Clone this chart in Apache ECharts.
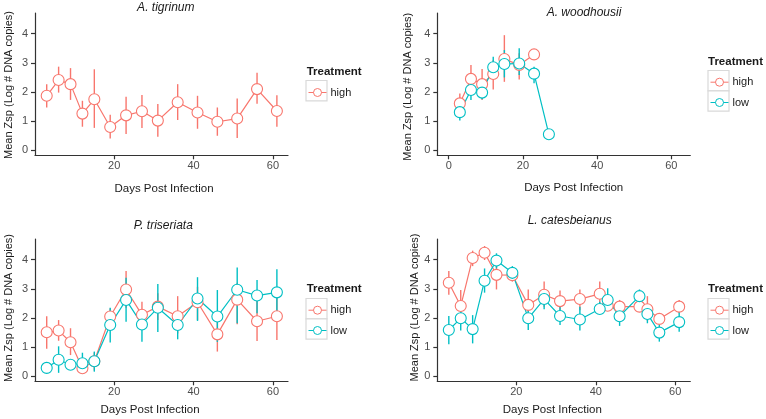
<!DOCTYPE html>
<html>
<head>
<meta charset="utf-8">
<script src="https://cdn.jsdelivr.net/npm/echarts@6/dist/echarts.min.js"></script>
<style>
html,body{margin:0;padding:0;background:#fff;}
#chart{width:766px;height:419px;}
</style>
</head>
<body>
<div id="chart"></div>
<script>
// ---------- data ----------
const panelTitles = ['A. tigrinum', 'A. woodhousii', 'P. triseriata', 'L. catesbeianus'];
const seriesNames = ['high', 'low'];
const xTicksA = [20, 40, 60];
const xTicksB = [0, 20, 40, 60];
const yTicks = [0, 1, 2, 3, 4];

// A. tigrinum
const tigDays = [3, 6, 9, 12, 15, 19, 23, 27, 31, 36, 41, 46, 51, 56, 61];
const tigHigh = [1.87, 2.41, 2.27, 1.26, 1.75, 0.80, 1.20, 1.34, 1.02, 1.65, 1.30, 0.98, 1.09, 2.10, 1.35];
const tigHighLo = [1.47, 1.98, 1.73, 0.81, 0.77, 0.41, 0.56, 0.77, 0.47, 1.04, 0.74, 0.50, 0.42, 1.60, 0.81];
const tigHighHi = [2.27, 2.87, 2.82, 1.70, 2.78, 1.22, 1.84, 1.90, 1.59, 2.27, 1.87, 1.47, 1.78, 2.66, 1.89];

// A. woodhousii
const woodHighDays = [3, 6, 9, 12, 15, 19, 23];
const woodHigh = [1.61, 2.45, 2.27, 2.62, 3.13, 2.93, 3.29];
const woodHighLo = [1.30, 2.07, 1.73, 2.09, 2.35, 2.43, null];
const woodHighHi = [1.95, 2.93, 2.79, 3.10, 3.95, 3.33, null];
const woodLowDays = [3, 6, 9, 12, 15, 19, 23, 27];
const woodLow = [1.31, 2.07, 1.98, 2.85, 2.96, 2.98, 2.63, 0.55];
const woodLowLo = [1.02, 1.73, 1.75, 2.53, 2.50, 2.58, 2.30, null];
const woodLowHi = [1.60, 2.35, 2.18, 3.21, 3.44, 3.50, 2.87, null];

// P. triseriata
const triDays = [3, 6, 9, 12, 15, 19, 23, 27, 31, 36, 41, 46, 51, 56, 61];
const triHigh = [1.51, 1.57, 1.17, 0.28, 0.52, 2.05, 2.98, 2.11, 2.39, 2.06, 2.54, 1.44, 2.63, 1.89, 2.06];
const triHighLo = [0.95, 1.22, 0.73, 0.12, 0.20, 1.76, 2.35, 1.70, 1.93, 1.47, 1.93, 0.85, 1.79, 1.21, 1.25];
const triHighHi = [2.06, 1.93, 1.65, 0.62, 0.82, 2.33, 3.61, 2.56, 2.85, 2.75, 3.07, 2.05, 3.21, 2.62, 2.75];
const triLow = [0.29, 0.57, 0.40, 0.45, 0.52, 1.76, 2.62, 1.78, 2.35, 1.76, 2.67, 2.05, 2.97, 2.77, 2.88];
const triLowLo = [0.18, 0.12, 0.25, 0.10, 0.16, 1.16, 1.87, 1.19, 1.52, 1.27, 1.90, 1.18, 1.82, 2.16, 2.07];
const triLowHi = [0.40, 1.03, 0.55, 0.81, 0.85, 2.35, 3.38, 2.27, 3.17, 2.16, 3.40, 2.96, 3.73, 3.30, 3.67];

// L. catesbeianus
const catDays = [3, 6, 9, 12, 15, 19, 23, 27, 31, 36, 41, 43, 46, 51, 53, 56, 61];
const catHigh = [3.21, 2.41, 4.06, 4.24, 3.48, 3.47, 2.45, 2.80, 2.58, 2.65, 2.83, 2.42, 2.39, 2.39, 2.30, 1.97, 2.39];
const catHighLo = [2.80, 2.16, 3.78, 3.99, 2.98, 3.25, 2.10, 2.39, 2.22, 2.27, 2.39, 2.25, 2.22, 2.22, 1.90, 1.80, 2.16];
const catHighHi = [3.61, 2.96, 4.31, 4.47, 3.93, 3.65, 2.98, 3.25, 2.94, 2.98, 3.25, 2.60, 2.62, 2.56, 2.75, 2.13, 2.62];
const catLow = [1.59, 1.99, 1.62, 3.28, 3.97, 3.55, 1.99, 2.65, 2.07, 1.95, 2.31, 2.62, 2.06, 2.75, 2.14, 1.50, 1.86];
const catLowLo = [1.10, 1.57, 1.13, 2.87, 3.70, 3.28, 1.59, 2.30, 1.76, 1.57, 2.13, 2.24, 1.73, 2.50, 1.82, 1.19, 1.53];
const catLowHi = [2.07, 2.33, 2.10, 3.70, 4.22, 3.78, 2.39, 2.96, 2.39, 2.39, 2.56, 3.02, 2.39, 2.98, 2.39, 1.76, 2.27];

// ---------- styling / layout ----------
const COLORS = { high: '#F8766D', low: '#00BFC4' };
const FONT = 'Liberation Sans, Arial, Helvetica, sans-serif';
const AXIS_COLOR = '#333333';
const LABEL_COLOR = '#4D4D4D';

const grids = [
  { left: 35, top: 13, width: 253, height: 142.3 },
  { left: 437.3, top: 13, width: 253, height: 142.3 },
  { left: 35, top: 239, width: 253, height: 142.3 },
  { left: 437.3, top: 239, width: 253, height: 142.3 }
];
const xRanges = [[0.05, 63.8], [-3.07, 65.1], [0.05, 63.8], [0.1, 63.8]];
const xTickSets = [xTicksA, xTicksB, xTicksA, xTicksA];
const yRange = [-0.17, 4.71];

const panels = [
  { series: [{ name: 'high', days: tigDays, mean: tigHigh, lo: tigHighLo, hi: tigHighHi }] },
  { series: [
      { name: 'high', days: woodHighDays, mean: woodHigh, lo: woodHighLo, hi: woodHighHi },
      { name: 'low', days: woodLowDays, mean: woodLow, lo: woodLowLo, hi: woodLowHi }] },
  { series: [
      { name: 'high', days: triDays, mean: triHigh, lo: triHighLo, hi: triHighHi },
      { name: 'low', days: triDays, mean: triLow, lo: triLowLo, hi: triLowHi }] },
  { series: [
      { name: 'high', days: catDays, mean: catHigh, lo: catHighLo, hi: catHighHi },
      { name: 'low', days: catDays, mean: catLow, lo: catLowLo, hi: catLowHi }] }
];

const xAxes = [], yAxes = [], series = [], legends = [];
grids.forEach((g, i) => {
  xAxes.push({
    type: 'value', gridIndex: i, min: xRanges[i][0], max: xRanges[i][1],
    axisLine: { show: true, onZero: false, lineStyle: { color: AXIS_COLOR, width: 1.2 } },
    axisTick: { show: true, length: 4, customValues: xTickSets[i], lineStyle: { color: AXIS_COLOR, width: 1.2 } },
    axisLabel: { customValues: xTickSets[i], color: LABEL_COLOR, fontSize: 11, fontFamily: FONT, margin: 5 },
    splitLine: { show: false }
  });
  yAxes.push({
    type: 'value', gridIndex: i, min: yRange[0], max: yRange[1],
    axisLine: { show: true, onZero: false, lineStyle: { color: AXIS_COLOR, width: 1.2 } },
    axisTick: { show: true, length: 4, customValues: yTicks, lineStyle: { color: AXIS_COLOR, width: 1.2 } },
    axisLabel: { customValues: yTicks, color: LABEL_COLOR, fontSize: 11, fontFamily: FONT, margin: 7 },
    splitLine: { show: false }
  });
});

panels.forEach((p, i) => {
  p.series.forEach(s => {
    const c = COLORS[s.name];
    const errData = [];
    s.days.forEach((d, k) => {
      if (s.lo[k] != null && s.hi[k] != null) errData.push([d, s.lo[k], s.hi[k]]);
    });
    series.push({
      type: 'custom', name: s.name + '_err', xAxisIndex: i, yAxisIndex: i, z: 1,
      silent: true, clip: false,
      encode: { x: 0, y: [1, 2] },
      data: errData,
      renderItem: function (params, api) {
        const a = api.coord([api.value(0), api.value(1)]);
        const b = api.coord([api.value(0), api.value(2)]);
        return { type: 'line', shape: { x1: a[0], y1: a[1], x2: b[0], y2: b[1] },
                 style: { stroke: c, lineWidth: 1.4 } };
      }
    });
    series.push({
      type: 'line', name: s.name, xAxisIndex: i, yAxisIndex: i, z: 3,
      data: s.days.map((d, k) => [d, s.mean[k]]),
      symbol: 'circle', symbolSize: 11, showAllSymbol: true,
      lineStyle: { color: c, width: 1.2 },
      itemStyle: { color: '#ffffff', borderColor: c, borderWidth: 1.1 },
      emphasis: { disabled: true },
      animation: false
    });
  });
});

// legends (item centre = top + 5, step 20.3)
const legendSpecs = [
  { left: 308, top: 86, names: ['high'] },
  { left: 710, top: 75.7, names: ['high', 'low'] },
  { left: 308, top: 303.7, names: ['high', 'low'] },
  { left: 710, top: 303.7, names: ['high', 'low'] }
];
legendSpecs.forEach(l => {
  legends.push({
    left: l.left, top: l.top, orient: 'vertical', padding: 0,
    itemWidth: 18, itemHeight: 10, itemGap: 7.3,
    selectedMode: false,
    data: l.names.map(n => ({ name: n, itemStyle: { color: '#fff', borderColor: COLORS[n], borderWidth: 1 }, lineStyle: { color: COLORS[n], width: 1 } })),
    textStyle: { color: '#1a1a1a', fontSize: 11, fontFamily: FONT, lineHeight: 13, padding: [0, 0, 0, -1] }
  });
});

// graphics: titles, axis titles, legend title & key boxes
const graphics = [];
function txt(x, y, text, opts) {
  graphics.push(Object.assign({
    type: 'text', x: x, y: y,
    style: Object.assign({ text: text, fill: '#1a1a1a', font: '11px ' + FONT, textAlign: 'center', textVerticalAlign: 'middle' }, opts && opts.style || {})
  }, opts && opts.el || {}));
}
const titlePos = [[165.8, 7.5], [584, 12.3], [163.3, 225.3], [569.7, 221]];
titlePos.forEach((t, i) => txt(t[0], t[1], panelTitles[i], { style: { font: 'italic 12px ' + FONT } }));
const xlabPos = [[164, 189], [573.7, 188.3], [150, 410.3], [552.3, 410.3]];
xlabPos.forEach(t => txt(t[0], t[1], 'Days Post Infection', { style: { font: '11.5px ' + FONT } }));
const ylabPos = [[8.5, 85], [408, 86.7], [8.5, 308], [414.7, 307.5]];
ylabPos.forEach(t => txt(t[0], t[1], 'Mean Zsp (Log # DNA copies)', { el: { rotation: Math.PI / 2 }, style: { font: '11px ' + FONT } }));
const legTitlePos = [[306.7, 72], [708, 62], [306.7, 288.5], [708, 288.5]];
legTitlePos.forEach(t => txt(t[0], t[1], 'Treatment', { style: { font: 'bold 11.5px ' + FONT, textAlign: 'left' } }));
const keyBoxes = [[306, 80.5, 1], [708, 70.5, 2], [306, 298.5, 2], [708, 298.5, 2]];
keyBoxes.forEach(b => {
  for (let k = 0; k < b[2]; k++) {
    graphics.push({ type: 'rect', z: -1, shape: { x: b[0], y: b[1] + k * 20.3, width: 21, height: 20.3 },
      style: { fill: '#ffffff', stroke: '#d9d9d9', lineWidth: 1.2 } });
  }
});

const chart = echarts.init(document.getElementById('chart'), null, { renderer: 'canvas' });
chart.setOption({
  animation: false,
  backgroundColor: '#ffffff',
  grid: grids,
  xAxis: xAxes,
  yAxis: yAxes,
  legend: legends,
  series: series,
  graphic: graphics
});
</script>
</body>
</html>
